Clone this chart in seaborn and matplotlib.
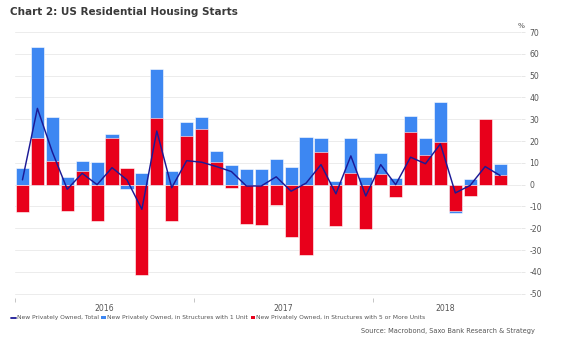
import matplotlib
matplotlib.use("Agg")
import matplotlib.pyplot as plt
from matplotlib.lines import Line2D
from matplotlib.patches import Patch
import numpy as np
import pandas as pd
import seaborn as sns

# Monthly observations, Jan 2016 .. Sep 2018
months = [str(p) for p in pd.period_range("2016-01", "2018-09", freq="M")]

# Total starts (line)
total = [2.2, 35.0, 15.0, -2.1, 5.2, 0.0, 7.8, 2.2, -11.3, 24.6, -1.4, 11.0,
         10.3, 8.3, 6.0, -0.6, -0.6, 3.6, -3.0, 0.7, 9.2, -4.2, 13.2, -5.2,
         9.2, 0.0, 12.6, 9.6, 18.7, -3.8, -0.3, 8.3, 4.2]

# Stacked components: 1-unit structures and 5+ unit structures
one_unit = [7.8, 42.0, 20.2, 3.7, 4.7, 10.3, 2.1, -2.0, 5.2, 22.7, 6.4, 6.3,
            5.4, 5.2, 9.0, 7.2, 7.0, 11.8, 8.3, 22.0, 6.5, 1.7, 15.8, 3.4,
            9.9, 2.9, 7.2, 7.7, 18.4, -1.2, 2.6, 0.0, 4.9]
five_plus = [-12.7, 21.3, 11.0, -12.0, 6.3, -16.5, 21.3, 7.8, -41.4, 30.5, -16.5, 22.3,
             25.5, 10.3, -1.7, -18.2, -18.5, -9.3, -24.1, -32.2, 15.1, -18.9, 5.5, -20.3,
             4.8, -5.8, 24.3, 13.6, 19.7, -11.9, -5.2, 30.0, 4.5]

year_labels = ["2016", "2017", "2018"]

BLUE = "#3d87f2"
RED = "#e8001b"
NAVY = "#1c1a96"
TEXT = "#555555"

df = pd.DataFrame({"month": months, "total": total,
                   "one_unit": np.array(one_unit), "five_plus": np.array(five_plus)})
# 1-unit segment sits on top of the 5+ segment when both share a sign
same_sign = np.sign(df["one_unit"]) == np.sign(df["five_plus"])
df["one_unit_top"] = np.where(same_sign, df["one_unit"] + df["five_plus"], df["one_unit"])
df["pos"] = np.arange(len(df))

sns.set_theme(style="white")
plt.rcParams["font.family"] = ["DejaVu Sans"]

fig = plt.figure(figsize=(5.73, 3.46), dpi=100)
ax = fig.add_axes([15 / 573, 1 - 298 / 346, (521 - 15) / 573, (298 - 29.9) / 346])

sns.barplot(data=df, x="month", y="one_unit_top", color=BLUE, saturation=1,
            width=0.88, edgecolor="white", linewidth=0.4, ax=ax, zorder=2)
sns.barplot(data=df, x="month", y="five_plus", color=RED, saturation=1,
            width=0.88, edgecolor="white", linewidth=0.4, ax=ax, zorder=3)
sns.lineplot(data=df, x="pos", y="total", color=NAVY, linewidth=1.05, ax=ax, zorder=4)

ax.set_xlim(-0.5, 33.4)
ax.set_ylim(-52, 71)
ax.set_xlabel("")
ax.set_ylabel("")
for s in ax.spines.values():
    s.set_visible(False)

# Horizontal grid
yt = np.arange(-50, 71, 10)
ax.set_yticks(yt)
ax.set_yticklabels([str(v) for v in yt])
ax.yaxis.tick_right()
ax.tick_params(axis="y", which="major", length=3, width=0.5, color="#dddddd",
               labelsize=5.6, labelcolor=TEXT, pad=3, right=True, left=False)
for v in yt:
    ax.axhline(v, color="#ececec", linewidth=0.7, zorder=0)

# Year boundaries as minor ticks, year names centred in each span
ax.set_xticks([-0.5, 11.5, 23.5], minor=True)
ax.set_xticks([5.5, 17.5, 28.3])
ax.set_xticklabels(year_labels)
ax.tick_params(axis="x", which="minor", length=3, width=0.6, color="#bbbbbb", bottom=True)
ax.tick_params(axis="x", which="major", length=0, labelsize=5.6, labelcolor=TEXT, pad=4)

ax.text(1.0, 1.005, "%", transform=ax.transAxes, fontsize=5.3, color=TEXT,
        ha="center", va="bottom")

fig.text(10 / 573, 1 - 12 / 346, "Chart 2: US Residential Housing Starts",
         fontsize=7.45, fontweight="bold", color="#3a3a3a", ha="left", va="center")

handles = [
    Line2D([0], [0], color=NAVY, linewidth=1.3),
    Patch(facecolor=BLUE, edgecolor="none"),
    Patch(facecolor=RED, edgecolor="none"),
]
labels = [
    "New Privately Owned, Total",
    "New Privately Owned, in Structures with 1 Unit",
    "New Privately Owned, in Structures with 5 or More Units",
]
fig.legend(handles, labels, loc="center left", bbox_to_anchor=(11 / 573, 1 - 318 / 346),
           ncol=3, frameon=False, fontsize=4.3, handlelength=0.8, handleheight=0.55,
           handletextpad=0.15, columnspacing=0.45, labelcolor=TEXT, borderaxespad=0,
           borderpad=0)

fig.text(535 / 573, 1 - 331 / 346, "Source: Macrobond, Saxo Bank Research & Strategy",
         fontsize=4.75, color=TEXT, ha="right", va="center")

fig.savefig("out.png", dpi=100, facecolor="white")
